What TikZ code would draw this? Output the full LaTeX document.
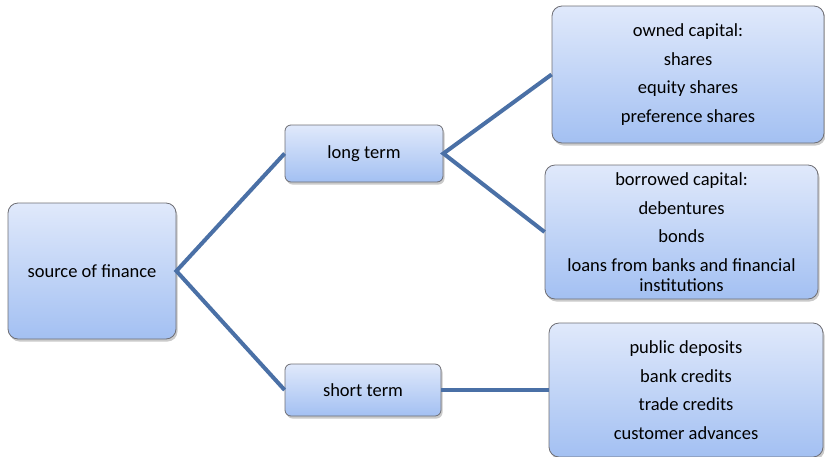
\documentclass[tikz,border=0pt]{standalone}
\usepackage{fontspec}
\setmainfont{Carlito}
\usetikzlibrary{shadows}
\definecolor{linkblue}{HTML}{4A70A6}
\definecolor{topfill}{HTML}{E0E9FB}
\definecolor{botfill}{HTML}{A3C0F2}
\definecolor{boxline}{HTML}{6E6E74}
\tikzset{
  fbox/.style={draw=boxline, line width=0.8pt, rounded corners=10pt,
    top color=topfill, bottom color=botfill, align=center,
    font=\fontsize{18.5}{20}\selectfont, inner sep=0pt,
    drop shadow={shadow xshift=1.5pt, shadow yshift=-2.5pt, opacity=0.35, fill=black!60}},
  smallbox/.style={fbox, rounded corners=6pt},
  link/.style={draw=linkblue, line width=4pt}
}
\begin{document}
\begin{tikzpicture}[x=1pt,y=-1pt]
\useasboundingbox (0,0) rectangle (825,456);
\node[fbox, minimum width=168pt, minimum height=136pt] (src) at (92,271) {source of finance};
\node[smallbox, minimum width=158pt, minimum height=57pt] (lt) at (364,153.5) {long term};
\node[smallbox, minimum width=156pt, minimum height=52pt] (st) at (363,390) {short term};
\node[fbox, minimum width=272pt, minimum height=137pt] (own) at (688,74.5)
  {owned capital:\\[8.5pt] shares\\[8.5pt] equity shares\\[8.5pt] preference shares};
\node[fbox, minimum width=273pt, minimum height=134pt] (bor) at (681.5,232)
  {borrowed capital:\\[8.5pt] debentures\\[8.5pt] bonds\\[8.5pt] loans from banks and financial\\ institutions};
\node[fbox, minimum width=274pt, minimum height=134pt] (sht) at (686,390)
  {public deposits\\[8.5pt] bank credits\\[8.5pt] trade credits\\[8.5pt] customer advances};
\draw[link] (lt.west) -- (src.east) -- (st.west);
\draw[link] (own.west) -- (lt.east) -- (bor.west);
\draw[link] (st.east) -- (sht.west);
\end{tikzpicture}
\end{document}
